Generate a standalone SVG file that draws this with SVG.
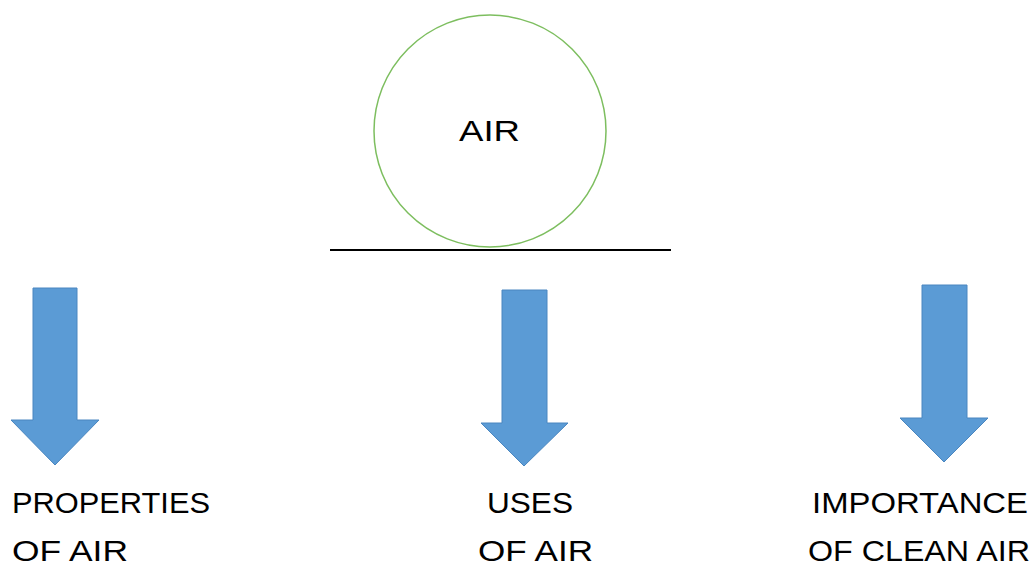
<svg xmlns="http://www.w3.org/2000/svg" width="1035" height="565" viewBox="0 0 1035 565">
<style>
.lbl{font-family:"Liberation Sans","DejaVu Sans",sans-serif;font-size:29px;fill:#000}
.arr{fill:#5B9BD5;stroke:#4A86C0;stroke-width:1}
</style>
<rect width="1035" height="565" fill="#fff"/>
<g id="air">
<circle cx="490" cy="131" r="116" fill="none" stroke="#7DBE5F" stroke-width="1.5"/>
<text class="lbl" x="459" y="141" textLength="61" lengthAdjust="spacingAndGlyphs">AIR</text>
</g>
<g id="connectors">
<line x1="330" y1="250" x2="671" y2="250" stroke="#000" stroke-width="2"/>
<polygon class="arr" points="33,288 77,288 77,420 99,420 55,465 11,420 33,420"/>
<polygon class="arr" points="502,290 547,290 547,423 568,423 524,466 481,423 502,423"/>
<polygon class="arr" points="922,285 967,285 967,418 988,418 944,462 900,418 922,418"/>
</g>
<g id="properties">
<text class="lbl" x="12" y="513" textLength="198" lengthAdjust="spacingAndGlyphs">PROPERTIES</text>
<text class="lbl" x="12" y="561" textLength="116" lengthAdjust="spacingAndGlyphs">OF AIR</text>
</g>
<g id="uses">
<text class="lbl" x="487" y="513" textLength="86" lengthAdjust="spacingAndGlyphs">USES</text>
<text class="lbl" x="478" y="561" textLength="115" lengthAdjust="spacingAndGlyphs">OF AIR</text>
</g>
<g id="importance">
<text class="lbl" x="812" y="513" textLength="216" lengthAdjust="spacingAndGlyphs">IMPORTANCE</text>
<text class="lbl" x="808" y="561" textLength="222" lengthAdjust="spacingAndGlyphs">OF CLEAN AIR</text>
</g>
</svg>
